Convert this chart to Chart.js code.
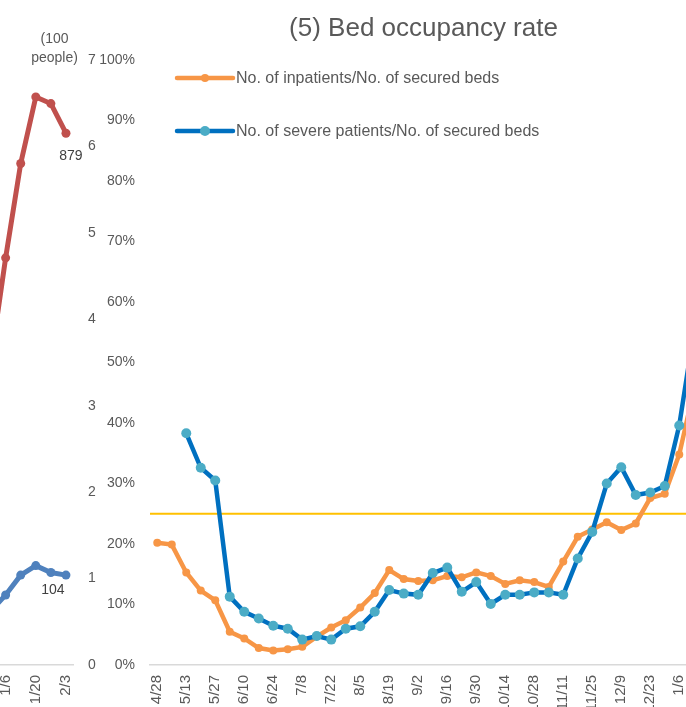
<!DOCTYPE html>
<html>
<head>
<meta charset="utf-8">
<script src="https://cdn.jsdelivr.net/npm/chart.js@4.4.0/dist/chart.umd.min.js"></script>
<style>
  html, body { margin: 0; padding: 0; background: #fff; overflow: hidden; }
  #wrap { position: relative; width: 686px; height: 707px; overflow: hidden; }
  #leftChart { position: absolute; left: -25px; top: 0; }
  #bedChart { position: absolute; left: 90px; top: 0; }
</style>
</head>
<body>
<div id="wrap">
  <canvas id="leftChart" width="125" height="707"></canvas>
  <canvas id="bedChart" width="667" height="707"></canvas>
</div>
<script>
// ---- previous panel (only its right end is visible) ----
const leftWeeks = ['12/30', '1/6', '1/13', '1/20', '1/27', '2/3'];
const leftRed = [499, 673, 829, 939, 928, 879];
const leftBlue = [62, 81, 104, 115, 107, 104];   // people, right axis in 100 people

// ---- (5) Bed occupancy rate ----
const weeks = ['4/28', '5/6', '5/13', '5/20', '5/27', '6/3', '6/10', '6/17', '6/24', '7/1',
  '7/8', '7/15', '7/22', '7/29', '8/5', '8/12', '8/19', '8/26', '9/2', '9/9',
  '9/16', '9/23', '9/30', '10/7', '10/14', '10/21', '10/28', '11/4', '11/11', '11/18',
  '11/25', '12/2', '12/9', '12/16', '12/23', '12/30', '1/6', '1/13'];
const inpatients = [20.2, 19.9, 15.3, 12.3, 10.7, 5.5, 4.4, 2.8, 2.4, 2.6,
  3.0, 4.7, 6.2, 7.4, 9.5, 11.9, 15.7, 14.2, 13.9, 14.0,
  14.7, 14.5, 15.3, 14.7, 13.4, 14.0, 13.7, 12.9, 17.1, 21.2,
  22.4, 23.6, 22.3, 23.4, 27.6, 28.3, 34.8, 45.4];
const severe = [null, null, 38.3, 32.6, 30.5, 11.3, 8.8, 7.7, 6.5, 6.0,
  4.2, 4.8, 4.2, 6.0, 6.4, 8.8, 12.4, 11.8, 11.6, 15.2,
  16.1, 12.1, 13.7, 10.1, 11.6, 11.6, 12.0, 12.0, 11.6, 17.6,
  22.0, 30.0, 32.7, 28.1, 28.5, 29.6, 39.6, 55.0];
const percentTicks = [0, 10, 20, 30, 40, 50, 60, 70, 80, 90, 100];
const threshold = 25;

const FONT = '"Liberation Sans", Arial, sans-serif';
Chart.defaults.font.family = FONT;
Chart.defaults.font.size = 14;
Chart.defaults.color = '#595959';
Chart.defaults.animation = false;

// value labels at the end of the left lines + the axis unit caption
const endLabels = {
  id: 'endLabels',
  afterDatasetsDraw(chart) {
    const { ctx, chartArea } = chart;
    const offsets = [[5, 23], [-13, 15]];
    ctx.save();
    ctx.font = '14px ' + FONT;
    ctx.textAlign = 'center';
    ctx.textBaseline = 'middle';
    ctx.fillStyle = '#404040';
    chart.data.datasets.forEach((ds, i) => {
      const meta = chart.getDatasetMeta(i);
      const pt = meta.data[meta.data.length - 1];
      ctx.fillText(String(ds.data[ds.data.length - 1]), pt.x + offsets[i][0], pt.y + offsets[i][1]);
    });
    ctx.fillStyle = '#595959';
    const cx = chartArea.right - 19;
    ctx.fillText('(100', cx, chartArea.top - 21);
    ctx.fillText('people)', cx, chartArea.top - 1.5);
    ctx.restore();
  }
};

new Chart(document.getElementById('leftChart'), {
  type: 'line',
  data: {
    labels: leftWeeks,
    datasets: [
      { data: leftRed, yAxisID: 'yL', borderColor: '#C0504D', backgroundColor: '#C0504D',
        borderWidth: 5, pointRadius: 4.5, pointBorderWidth: 0, tension: 0 },
      { data: leftBlue, yAxisID: 'yR', borderColor: '#4F81BD', backgroundColor: '#4F81BD',
        borderWidth: 5, pointRadius: 4.5, pointBorderWidth: 0, tension: 0 }
    ]
  },
  options: {
    responsive: false,
    events: [],
    layout: { padding: { left: 8, top: 60 } },
    plugins: { legend: { display: false }, tooltip: { enabled: false } },
    scales: {
      x: {
        offset: true,
        grid: { display: false, drawTicks: false },
        border: { display: true, color: '#D9D9D9', width: 1.5 },
        ticks: { autoSkip: false, minRotation: 90, maxRotation: 90, padding: 10, font: { size: 15 },
          callback: (v, i) => (i % 2 === 1 ? leftWeeks[i] : '') },
        afterFit(s) { s.height = 42; }
      },
      yL: { display: false, position: 'left', min: 0, max: 1000 },
      yR: {
        position: 'right', min: 0, max: 700,
        grid: { display: false, drawTicks: false },
        border: { display: false },
        ticks: { stepSize: 100, padding: 14.5, callback: v => v / 100 },
        afterFit(s) { s.width = 26.5; }
      }
    }
  },
  plugins: [endLabels]
});

// horizontal reference line
const thresholdLine = {
  id: 'thresholdLine',
  beforeDatasetsDraw(chart) {
    const { ctx, chartArea, scales } = chart;
    const y = scales.y.getPixelForValue(threshold);
    ctx.save();
    ctx.strokeStyle = '#FFC000';
    ctx.lineWidth = 2;
    ctx.beginPath();
    ctx.moveTo(chartArea.left, y);
    ctx.lineTo(chartArea.right, y);
    ctx.stroke();
    ctx.restore();
  }
};

// title (centred on the full original panel, wider than the window) + legend inside the plot
const panelText = {
  id: 'panelText',
  afterDraw(chart) {
    const { ctx, chartArea } = chart;
    ctx.save();
    ctx.fillStyle = '#595959';
    ctx.font = '26px ' + FONT;
    ctx.textAlign = 'center';
    ctx.textBaseline = 'middle';
    ctx.fillText('(5) Bed occupancy rate', chartArea.left + 273.5, 29);

    const x0 = chartArea.left + 27;
    const y0 = chartArea.top + 18;
    ctx.textAlign = 'left';
    ctx.font = '16px ' + FONT;
    chart.data.datasets.forEach((ds, i) => {
      const y = y0 + i * 53;
      ctx.strokeStyle = ds.borderColor;
      ctx.lineWidth = ds.borderWidth;
      ctx.lineCap = 'round';
      ctx.beginPath();
      ctx.moveTo(x0, y);
      ctx.lineTo(x0 + 56, y);
      ctx.stroke();
      ctx.fillStyle = ds.pointBackgroundColor;
      ctx.beginPath();
      ctx.arc(x0 + 28, y, ds.pointRadius, 0, Math.PI * 2);
      ctx.fill();
      ctx.fillStyle = '#595959';
      ctx.fillText(ds.label, x0 + 59, y + 1);
    });
    ctx.restore();
  }
};

new Chart(document.getElementById('bedChart'), {
  type: 'line',
  data: {
    labels: weeks,
    datasets: [
      { label: 'No. of inpatients/No. of secured beds', data: inpatients, order: 1,
        borderColor: '#F79646', pointBackgroundColor: '#F79646', borderWidth: 4.5,
        pointRadius: 4, pointBorderWidth: 0, tension: 0 },
      { label: 'No. of severe patients/No. of secured beds', data: severe, order: 0,
        borderColor: '#0070C0', pointBackgroundColor: '#4BACC6', borderWidth: 4.5,
        pointRadius: 5, pointBorderWidth: 0, tension: 0 }
    ]
  },
  options: {
    responsive: false,
    events: [],
    layout: { padding: { top: 60, right: 56 } },
    plugins: { legend: { display: false }, tooltip: { enabled: false } },
    scales: {
      x: {
        offset: true,
        grid: { display: false, drawTicks: false },
        border: { display: true, color: '#D9D9D9', width: 1.5 },
        ticks: { autoSkip: false, minRotation: 90, maxRotation: 90, padding: 10, font: { size: 15 },
          callback: (v, i) => (i % 2 === 0 ? weeks[i] : '') },
        afterFit(s) { s.height = 42; }
      },
      y: {
        min: 0, max: 100,
        grid: { display: false, drawTicks: false },
        border: { display: false },
        afterBuildTicks(s) { s.ticks = percentTicks.map(v => ({ value: v })); },
        ticks: { padding: 15, callback: v => v + '%' },
        afterFit(s) { s.width = 60; }
      }
    }
  },
  plugins: [thresholdLine, panelText]
});
</script>
</body>
</html>
